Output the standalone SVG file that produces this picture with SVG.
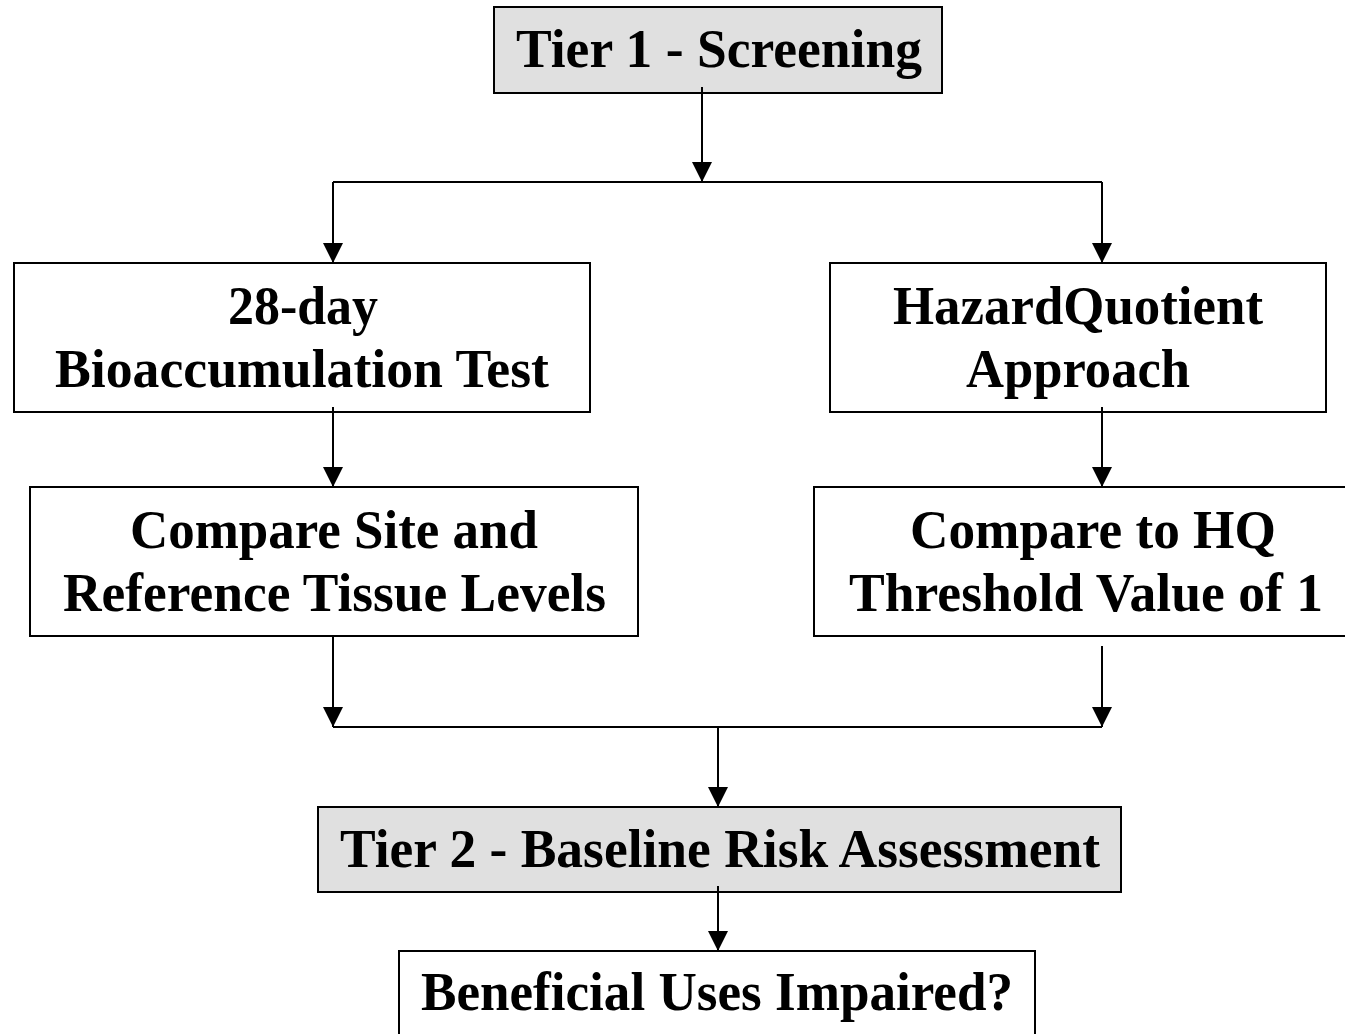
<svg xmlns="http://www.w3.org/2000/svg" width="1345" height="1034" viewBox="0 0 1345 1034">
<style>
.box{fill:#ffffff;stroke:#000;stroke-width:2}
.gray{fill:#e0e0e0;stroke:#000;stroke-width:2}
.t{font-family:"Liberation Serif","Times New Roman",serif;font-weight:bold;font-size:54px;fill:#000;text-anchor:middle}
.c{stroke:#000;stroke-width:2;fill:none}
</style>
<defs>
<marker id="dn" markerWidth="20" markerHeight="20" refX="10" refY="20" orient="0" markerUnits="userSpaceOnUse" viewBox="0 0 20 20">
<path d="M0,0 L20,0 L10,20 Z" fill="#000"/>
</marker>
</defs>
<rect width="1345" height="1034" fill="#fff"/>
<g id="tier1">
<rect class="gray" x="494" y="7" width="448" height="86"/>
<text class="t" x="719" y="67" textLength="406" lengthAdjust="spacingAndGlyphs">Tier 1 - Screening</text>
</g>
<g id="bioaccumulation">
<rect class="box" x="14" y="263" width="576" height="149"/>
<text class="t" x="303" y="324" textLength="150" lengthAdjust="spacingAndGlyphs">28-day</text>
<text class="t" x="302" y="387" textLength="494" lengthAdjust="spacingAndGlyphs">Bioaccumulation Test</text>
</g>
<g id="hazard">
<rect class="box" x="830" y="263" width="496" height="149"/>
<text class="t" x="1078" y="324" textLength="370" lengthAdjust="spacingAndGlyphs">HazardQuotient</text>
<text class="t" x="1078" y="387" textLength="224" lengthAdjust="spacingAndGlyphs">Approach</text>
</g>
<g id="compare-site">
<rect class="box" x="30" y="487" width="608" height="149"/>
<text class="t" x="334" y="548" textLength="408" lengthAdjust="spacingAndGlyphs">Compare Site and</text>
<text class="t" x="334.5" y="611" textLength="543" lengthAdjust="spacingAndGlyphs">Reference Tissue Levels</text>
</g>
<g id="compare-hq">
<rect class="box" x="814" y="487" width="540" height="149"/>
<text class="t" x="1093" y="548" textLength="366" lengthAdjust="spacingAndGlyphs">Compare to HQ</text>
<text class="t" x="1086" y="611" textLength="474" lengthAdjust="spacingAndGlyphs">Threshold Value of 1</text>
</g>
<g id="tier2">
<rect class="gray" x="318" y="807" width="803" height="85"/>
<text class="t" x="720" y="867" textLength="760" lengthAdjust="spacingAndGlyphs">Tier 2 - Baseline Risk Assessment</text>
</g>
<g id="beneficial">
<rect class="box" x="399" y="951" width="636" height="100"/>
<text class="t" x="717" y="1010" textLength="592" lengthAdjust="spacingAndGlyphs">Beneficial Uses Impaired?</text>
</g>
<g id="connectors">
<line class="c" x1="702" y1="87" x2="702" y2="182" marker-end="url(#dn)"/>
<line class="c" x1="333" y1="182" x2="1102" y2="182"/>
<line class="c" x1="333" y1="182" x2="333" y2="263" marker-end="url(#dn)"/>
<line class="c" x1="1102" y1="182" x2="1102" y2="263" marker-end="url(#dn)"/>
<line class="c" x1="333" y1="407" x2="333" y2="487" marker-end="url(#dn)"/>
<line class="c" x1="1102" y1="407" x2="1102" y2="487" marker-end="url(#dn)"/>
<line class="c" x1="333" y1="636" x2="333" y2="727" marker-end="url(#dn)"/>
<line class="c" x1="1102" y1="646" x2="1102" y2="727" marker-end="url(#dn)"/>
<line class="c" x1="333" y1="727" x2="1102" y2="727"/>
<line class="c" x1="718" y1="727" x2="718" y2="807" marker-end="url(#dn)"/>
<line class="c" x1="718" y1="886" x2="718" y2="951" marker-end="url(#dn)"/>
</g>
</svg>
